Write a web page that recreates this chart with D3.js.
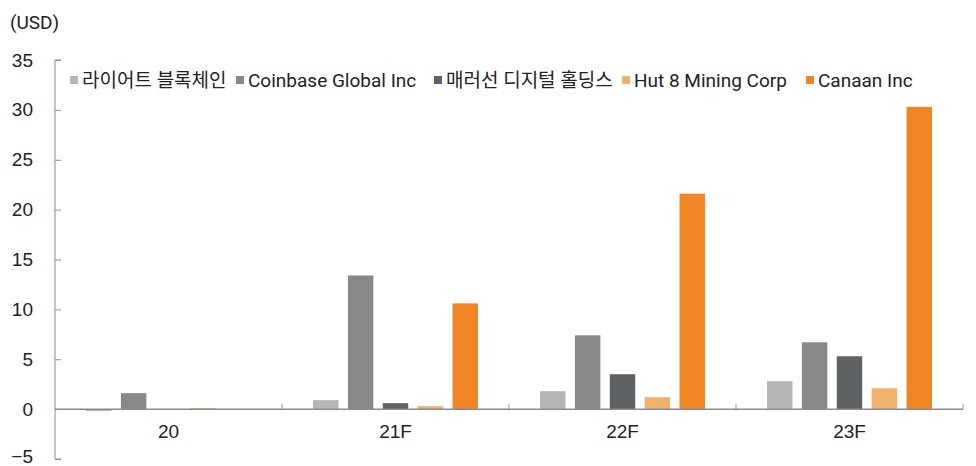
<!DOCTYPE html>
<html>
<head>
<meta charset="utf-8">
<script src="https://cdn.jsdelivr.net/npm/d3@7"></script>
<style>
  body { margin: 0; background: #fff; }
  svg { font-family: Roboto, "Noto Sans CJK KR", sans-serif; }
</style>
</head>
<body>
<script>
// Data
const categories = ["20", "21F", "22F", "23F"];
const seriesNames = ["라이어트 블록체인", "Coinbase Global Inc", "매러선 디지털 홀딩스", "Hut 8 Mining Corp", "Canaan Inc"];
const riot     = [-0.2, 0.9, 1.8, 2.8];
const coinbase = [1.6, 13.4, 7.4, 6.7];
const marathon = [0, 0.6, 3.5, 5.3];
const hut8     = [0.1, 0.3, 1.2, 2.1];
const canaan   = [0, 10.6, 21.6, 30.3];
const yTicks = [-5, 0, 5, 10, 15, 20, 25, 30, 35];

const seriesValues = [riot, coinbase, marathon, hut8, canaan];
const colors = ["#b5b6b8", "#86888a", "#5f6265", "#f0b26b", "#f28523"];

const width = 976, height = 466;
const margin = { top: 60, right: 13, bottom: 7, left: 55 };

const svg = d3.select("body").append("svg")
  .attr("width", width)
  .attr("height", height)
  .attr("viewBox", [0, 0, width, height]);

const x = d3.scaleBand()
  .domain(categories)
  .range([margin.left, width - margin.right])
  .padding(0);

const xs = d3.scaleBand()
  .domain(d3.range(seriesNames.length))
  .range([0, x.bandwidth()])
  .paddingInner(0.27)
  .paddingOuter(0.89);

const y = d3.scaleLinear()
  .domain([-5, 35])
  .range([height - margin.bottom, margin.top]);

// Y axis
svg.append("g")
  .attr("transform", `translate(${margin.left},0)`)
  .call(d3.axisRight(y).tickValues(yTicks).tickSize(6).tickFormat(d => d < 0 ? "\u2212" + Math.abs(d) : d))
  .call(g => g.select(".domain").attr("stroke", "#8c8c8c").attr("d", `M6,${y(35)}H0V${y(-5)}H6`))
  .call(g => g.selectAll(".tick line").attr("stroke", "#8c8c8c"))
  .call(g => g.selectAll(".tick text")
    .attr("x", -22).attr("text-anchor", "end")
    .attr("font-size", 19).attr("fill", "#222")
    .attr("dy", d => d < 0 ? "0.2em" : "0.32em"));

// Bars
const groups = svg.append("g")
  .selectAll("g")
  .data(seriesValues)
  .join("g")
  .attr("fill", (d, i) => colors[i]);

groups.selectAll("rect")
  .data((vals, si) => vals.map((v, ci) => ({ v, ci, si })))
  .join("rect")
  .attr("x", d => x(categories[d.ci]) + xs(d.si))
  .attr("width", xs.bandwidth())
  .attr("y", d => y(Math.max(0, d.v)))
  .attr("height", d => Math.abs(y(d.v) - y(0)));

// X axis at zero
svg.append("g")
  .attr("transform", `translate(0,${y(0)})`)
  .call(d3.axisBottom(x).tickSize(0).tickPadding(15))
  .call(g => g.select(".domain").attr("stroke", "#8c8c8c").attr("stroke-width", 1.5)
    .attr("d", `M${margin.left},0H${width - margin.right}`))
  .call(g => g.selectAll(".tick text").attr("font-size", 19).attr("fill", "#222"))
  .call(g => g.selectAll(".sep")
    .data(categories.map(c => x(c)).slice(1).concat([x.range()[1]]))
    .join("line")
    .attr("class", "sep")
    .attr("x1", d => d).attr("x2", d => d)
    .attr("y1", 0).attr("y2", -5)
    .attr("stroke", "#8c8c8c"));

// Unit label
svg.append("text")
  .attr("x", 10).attr("y", 29)
  .attr("font-size", 19).attr("fill", "#222")
  .text("(USD)");

// Legend
const legendX = [70, 236, 434, 622, 806];
const legend = svg.append("g")
  .selectAll("g")
  .data(seriesNames)
  .join("g")
  .attr("transform", (d, i) => `translate(${legendX[i]},80)`);

legend.append("rect")
  .attr("x", 0).attr("y", -4)
  .attr("width", 8).attr("height", 8)
  .attr("fill", (d, i) => colors[i]);

legend.append("text")
  .attr("x", 12).attr("dy", "0.35em")
  .attr("font-size", 19).attr("fill", "#222")
  .text(d => d);
</script>
</body>
</html>
